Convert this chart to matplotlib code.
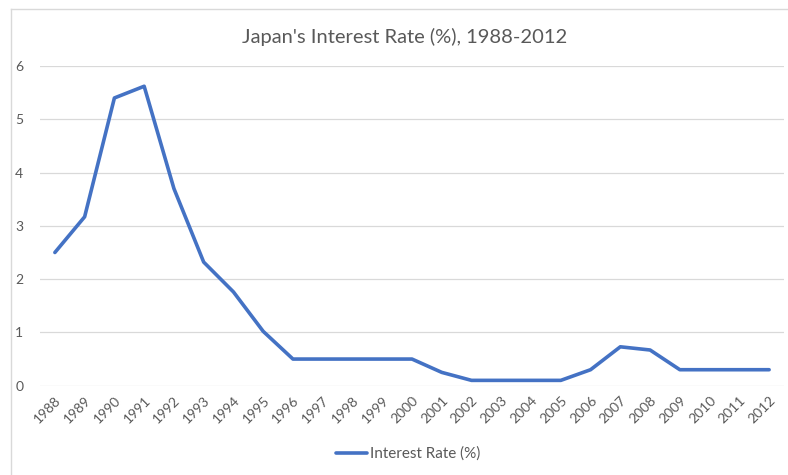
import matplotlib.pyplot as plt
from matplotlib.lines import Line2D

years = [str(y) for y in range(1988, 2013)]
rates = [2.5, 3.17, 5.4, 5.62, 3.7, 2.32, 1.76, 1.02, 0.5, 0.5, 0.5, 0.5, 0.5,
         0.25, 0.1, 0.1, 0.1, 0.1, 0.3, 0.73, 0.67, 0.3, 0.3, 0.3, 0.3]

plt.rcParams['font.family'] = ['Lato', 'DejaVu Sans']
text_col = '#595959'
grid_col = '#D9D9D9'

W, H = 788, 475
fig = plt.figure(figsize=(W / 100, H / 100), dpi=100)
ax = fig.add_axes([40 / W, (H - 385.7) / H, (784 - 40) / W, (385.7 - 66) / H])

x = list(range(len(years)))
ax.plot(x, rates, color='#4472C4', lw=2.6, solid_joinstyle='round',
        solid_capstyle='round', label='Interest Rate (%)')

ax.set_xlim(-0.5, len(years) - 0.5)
ax.set_ylim(0, 6)
ax.set_yticks(range(7))
ax.set_xticks(x)
ax.set_xticklabels(years, rotation=45, ha='right', va='top',
                   rotation_mode='anchor')
ax.tick_params(length=0, colors=text_col, labelsize=10)
ax.tick_params(axis='y', pad=12)
ax.tick_params(axis='x', pad=6)
ax.grid(axis='y', color=grid_col, lw=0.9)
ax.set_axisbelow(True)
for s in ax.spines.values():
    s.set_visible(False)

fig.text(405 / W, (H - 37) / H, "Japan's Interest Rate (%), 1988-2012",
         ha='center', va='center', fontsize=14.5, color=text_col)

fig.legend(loc='center', bbox_to_anchor=(408 / W, (H - 454) / H), frameon=False,
           fontsize=11, labelcolor=text_col, handlelength=2.0, handletextpad=0.2)

# chart area border: only left and top edges fall inside the image
left, top = 11 / W, (H - 9) / H
fig.lines.append(Line2D([left, left], [0, top], transform=fig.transFigure,
                        color=grid_col, lw=1.0))
fig.lines.append(Line2D([left, 1], [top, top], transform=fig.transFigure,
                        color=grid_col, lw=1.0))

fig.savefig('out.png', dpi=100)
